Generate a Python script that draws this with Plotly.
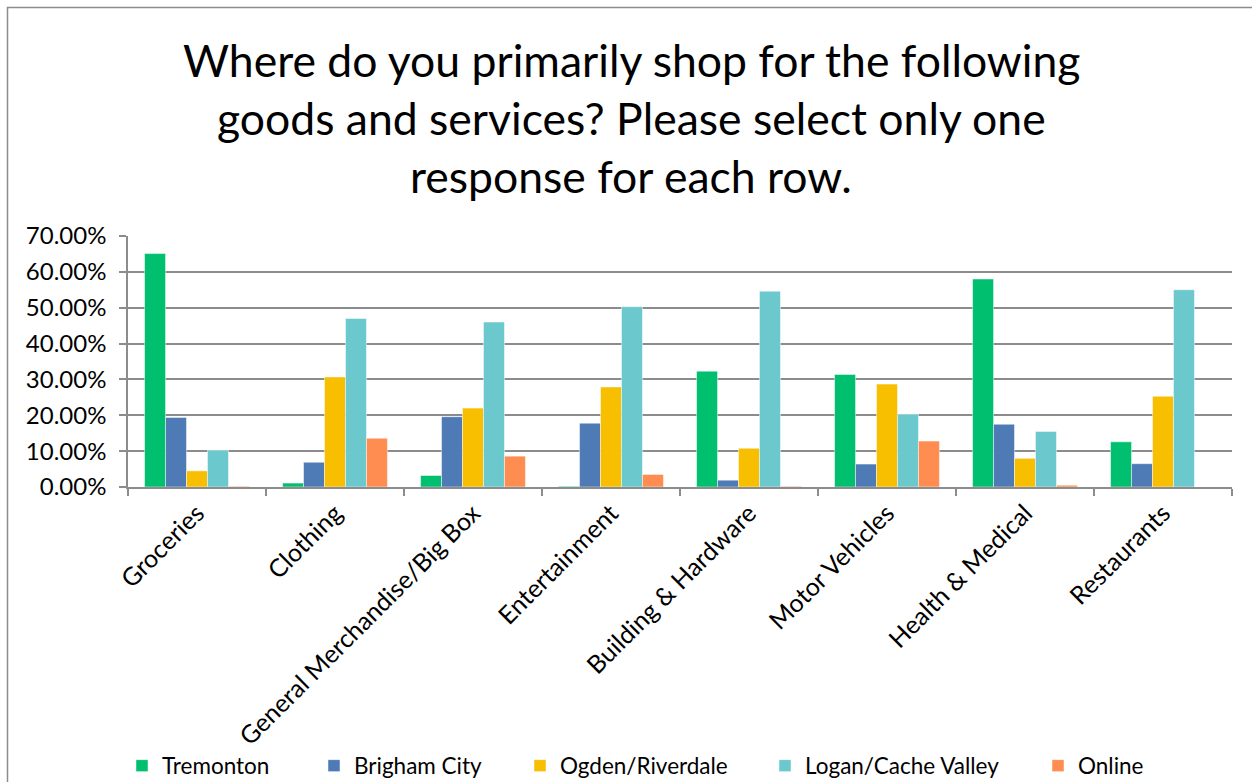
import plotly.graph_objects as go

# Survey responses: share of respondents choosing each shopping location
categories = [
    "Groceries", "Clothing", "General Merchandise/Big Box", "Entertainment",
    "Building & Hardware", "Motor Vehicles", "Health & Medical", "Restaurants",
]
tremonton = [0.651, 0.011, 0.032, 0.002, 0.323, 0.314, 0.580, 0.126]
brigham_city = [0.194, 0.069, 0.196, 0.178, 0.019, 0.064, 0.175, 0.065]
ogden_riverdale = [0.045, 0.307, 0.220, 0.279, 0.108, 0.287, 0.080, 0.253]
logan_cache = [0.103, 0.470, 0.460, 0.503, 0.546, 0.203, 0.155, 0.550]
online = [0.002, 0.136, 0.086, 0.035, 0.002, 0.128, 0.005, 0.0]

series_names = ["Tremonton", "Brigham City", "Ogden/Riverdale", "Logan/Cache Valley", "Online"]
series_values = [tremonton, brigham_city, ogden_riverdale, logan_cache, online]
series_colors = ["#00BF6F", "#4E7AB5", "#F8BE00", "#6BC8CC", "#FF8C50"]

title_lines = [
    "Where do you primarily shop for the following",
    "goods and services? Please select only one",
    "response for each row.",
]

FONT = "Lato"
W, H = 1252, 782
L, R, T, B = 128, 20, 236, 295
plot_w = W - L - R
plot_h = H - T - B


def px_x(p):
    return (p - L) / plot_w


def px_y(p):
    return (H - B - p) / plot_h


# left edges (pixels) of each legend entry along the bottom row
legend_left_px = [122, 314, 520, 765, 1038]
legend_names = ["legend", "legend2", "legend3", "legend4", "legend5"]

fig = go.Figure()
for name, vals, color, lg in zip(series_names, series_values, series_colors, legend_names):
    fig.add_trace(go.Bar(
        name=name, x=categories, y=vals,
        marker=dict(color=color, line=dict(color="rgba(255,255,255,0.6)", width=0.8)),
        legend=lg,
    ))

layout_legends = {}
for lg, left in zip(legend_names, legend_left_px):
    layout_legends[lg] = dict(
        x=px_x(left), y=px_y(766), xanchor="left", yanchor="middle",
        orientation="h", bgcolor="rgba(0,0,0,0)", borderwidth=0,
        font=dict(family=FONT, size=22.5, color="#000000"),
    )

annotations = []
for line, base_px in zip(title_lines, [59, 117, 175]):
    annotations.append(dict(
        text=line, xref="paper", yref="paper",
        x=px_x(631), y=px_y(base_px), xanchor="center", yanchor="middle",
        showarrow=False, font=dict(family=FONT, size=44.5, color="#000000"),
    ))

fig.update_layout(
    width=W, height=H,
    margin=dict(l=L, r=R, t=T, b=B, autoexpand=False),
    paper_bgcolor="#FFFFFF", plot_bgcolor="#FFFFFF",
    barmode="group", bargap=0.24, bargroupgap=0.0,
    showlegend=True,
    annotations=annotations,
    shapes=[dict(
        type="rect", xref="paper", yref="paper",
        x0=px_x(7.5), x1=px_x(1300), y0=px_y(830), y1=px_y(7.5),
        line=dict(color="#8C8C8C", width=1.5), fillcolor="rgba(0,0,0,0)", layer="below",
    )],
    **layout_legends,
)

fig.update_xaxes(
    type="category", tickangle=-45, tickson="boundaries",
    ticks="outside", ticklen=7, tickcolor="#8C8C8C", tickwidth=1.5,
    showline=True, linecolor="#8C8C8C", linewidth=1.5,
    showgrid=False,
    tickfont=dict(family=FONT, size=25, color="#000000"),
)
fig.update_yaxes(
    range=[0, 0.7], dtick=0.1, tickformat=".2%",
    ticks="outside", ticklen=7, tickcolor="#8C8C8C", tickwidth=1.5,
    showline=True, linecolor="#8C8C8C", linewidth=1.5,
    showgrid=True, gridcolor="#8C8C8C", gridwidth=1.5,
    zeroline=False, ticklabelstandoff=8,
    tickfont=dict(family=FONT, size=24, color="#000000"),
)

fig.write_html("out.html")
